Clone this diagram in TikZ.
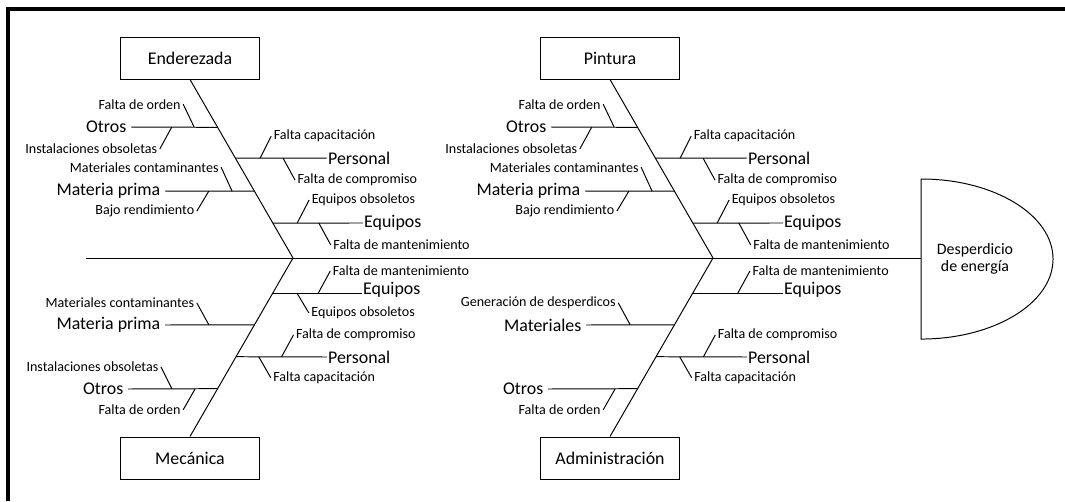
\documentclass[tikz,border=0pt]{standalone}
\usepackage{fontspec}
\setmainfont{Carlito}
\usetikzlibrary{calc,positioning}
\tikzset{
  catbox/.style={draw, minimum width=3.45cm, minimum height=1.05cm, inner sep=0pt,
                 font=\fontsize{12.7}{15}\selectfont},
  causel/.style={anchor=east, inner xsep=3pt, inner ysep=0pt, font=\fontsize{12.7}{15}\selectfont},
  causer/.style={anchor=west, inner xsep=0.5pt, inner ysep=0pt, font=\fontsize{12.7}{15}\selectfont},
  subl/.style={anchor=east, inner sep=1.5pt, font=\fontsize{10}{12}\selectfont},
  subr/.style={anchor=west, inner sep=1.5pt, font=\fontsize{10}{12}\selectfont},
}

\begin{document}
\begin{tikzpicture}[x=0.025cm, y=-0.025cm, line width=0.7pt]
\useasboundingbox (0,0) rectangle (1065,501);
% frame (top and left edges)
\draw[line width=2.2pt] (8,501) -- (8,9) -- (1065,9);

% head and spine
\coordinate (tail) at (86,258);
\coordinate (hw) at (921,258);
\draw (921,339) -- (921,179) arc[start angle=90, end angle=-90, x radius=3.3cm, y radius=2cm] -- cycle;
\node[font=\fontsize{11.3}{12.5}\selectfont, align=center] (eff) at (975,259) {Desperdicio\\de energía};
\draw (tail) -- (hw);

% upper bones (same layout on both)
\foreach \ox/\i/\lbl in {0/1/Enderezada, 420/2/Pintura}{
  \node[catbox] (top\i) at (\ox+190,58) {\lbl};
  \coordinate (J\i) at (\ox+293,258);
  \draw (top\i.south) -- (J\i) coordinate[pos=0.268] (jo\i) coordinate[pos=0.441] (jp\i)
        coordinate[pos=0.626] (jm\i) coordinate[pos=0.804] (je\i);
  % Otros
  \node[causel] (ot\i) at (\ox+131,127) {Otros};
  \draw (ot\i.east) -- (jo\i) coordinate[pos=0.47] (ta\i) coordinate[pos=0.73] (tb\i);
  \node[subl] (fo\i) at ($(tb\i)+(-11,-23)$) {Falta de orden};
  \node[subl] (io\i) at ($(ta\i)+(-12,22)$) {Instalaciones obsoletas};
  \draw (fo\i.east) -- (tb\i) (io\i.east) -- (ta\i);
  % Materia prima
  \node[causel] (mp\i) at (\ox+165,191) {Materia prima};
  \draw (mp\i.east) -- (jm\i) coordinate[pos=0.49] (tc\i) coordinate[pos=0.75] (td\i);
  \node[subl] (mc\i) at ($(td\i)+(-11,-24)$) {Materiales contaminantes};
  \node[subl] (br\i) at ($(tc\i)+(-12,20)$) {Bajo rendimiento};
  \draw (mc\i.east) -- (td\i) (br\i.east) -- (tc\i);
  % Personal
  \node[causer] (pe\i) at (\ox+327,158) {Personal};
  \draw (jp\i) -- (pe\i.west) coordinate[pos=0.27] (te\i) coordinate[pos=0.52] (tf\i);
  \node[subr] (fc\i) at ($(te\i)+(11,-22)$) {Falta capacitación};
  \node[subr] (fm\i) at ($(tf\i)+(12,22)$) {Falta de compromiso};
  \draw (fc\i.west) -- (te\i) (fm\i.west) -- (tf\i);
  % Equipos
  \node[causer] (eq\i) at (\ox+363,223) {Equipos};
  \draw (je\i) -- (eq\i.west) coordinate[pos=0.27] (tg\i) coordinate[pos=0.51] (th\i);
  \node[subr] (eo\i) at ($(tg\i)+(12,-23)$) {Equipos obsoletos};
  \node[subr] (mt\i) at ($(th\i)+(12,22)$) {Falta de mantenimiento};
  \draw (eo\i.west) -- (tg\i) (mt\i.west) -- (th\i);
}

% lower bone: Mecánica
\node[catbox] (mec) at (190,458) {Mecánica};
\draw (J1) -- (mec.north) coordinate[pos=0.196] (ke1) coordinate[pos=0.374] (km1)
      coordinate[pos=0.553] (kp1) coordinate[pos=0.732] (ko1);
\node[causer] (eqb1) at (362,290) {Equipos};
\draw (ke1) -- (ke1 -| eqb1.west) coordinate[pos=0.27] (ua1) coordinate[pos=0.51] (ub1);
\node[subr] (mtb1) at ($(ub1)+(12,-22)$) {Falta de mantenimiento};
\node[subr] (eob1) at ($(ua1)+(12,20)$) {Equipos obsoletos};
\draw (mtb1.west) -- (ub1) (eob1.west) -- (ua1);
\node[causel] (mpb1) at (165,325) {Materia prima};
\draw (mpb1.east) -- (km1) coordinate[pos=0.49] (uc1);
\node[subl] (mcb1) at ($(uc1)+(-12,-22)$) {Materiales contaminantes};
\draw (mcb1.east) -- (uc1);
\node[causer] (peb1) at (327,357) {Personal};
\draw (kp1) -- (peb1.west) coordinate[pos=0.25] (ud1) coordinate[pos=0.5] (ue1);
\node[subr] (fmb1) at ($(ue1)+(12,-22)$) {Falta de compromiso};
\node[subr] (fcb1) at ($(ud1)+(12,21)$) {Falta capacitación};
\draw (fmb1.west) -- (ue1) (fcb1.west) -- (ud1);
\node[causel] (otb1) at (128,389) {Otros};
\draw (otb1.east) -- (ko1) coordinate[pos=0.49] (uf1) coordinate[pos=0.75] (ug1);
\node[subl] (iob1) at ($(uf1)+(-11,-22)$) {Instalaciones obsoletas};
\node[subl] (fob1) at ($(ug1)+(-12,21)$) {Falta de orden};
\draw (iob1.east) -- (uf1) (fob1.east) -- (ug1);

% lower bone: Administración
\node[catbox] (adm) at (610,458) {Administración};
\draw (J2) -- (adm.north) coordinate[pos=0.196] (ke2) coordinate[pos=0.374] (km2)
      coordinate[pos=0.553] (kp2) coordinate[pos=0.732] (ko2);
\node[causer] (eqb2) at (783,290) {Equipos};
\draw (ke2) -- (ke2 -| eqb2.west) coordinate[pos=0.5] (ub2);
\node[subr] (mtb2) at ($(ub2)+(12,-22)$) {Falta de mantenimiento};
\draw (mtb2.west) -- (ub2);
\node[causel] (mat2) at (586,325) {Materiales};
\draw (mat2.east) -- (km2) coordinate[pos=0.5] (uc2);
\node[subl] (gd2) at ($(uc2)+(-12,-22)$) {Generación de desperdicos};
\draw (gd2.east) -- (uc2);
\node[causer] (peb2) at (747,357) {Personal};
\draw (kp2) -- (peb2.west) coordinate[pos=0.26] (ud2) coordinate[pos=0.52] (ue2);
\node[subr] (fmb2) at ($(ue2)+(12,-22)$) {Falta de compromiso};
\node[subr] (fcb2) at ($(ud2)+(12,21)$) {Falta capacitación};
\draw (fmb2.west) -- (ue2) (fcb2.west) -- (ud2);
\node[causel] (otb2) at (548,389) {Otros};
\draw (otb2.east) -- (ko2) coordinate[pos=0.75] (ug2);
\node[subl] (fob2) at ($(ug2)+(-12,21)$) {Falta de orden};
\draw (fob2.east) -- (ug2);
\end{tikzpicture}
\end{document}
